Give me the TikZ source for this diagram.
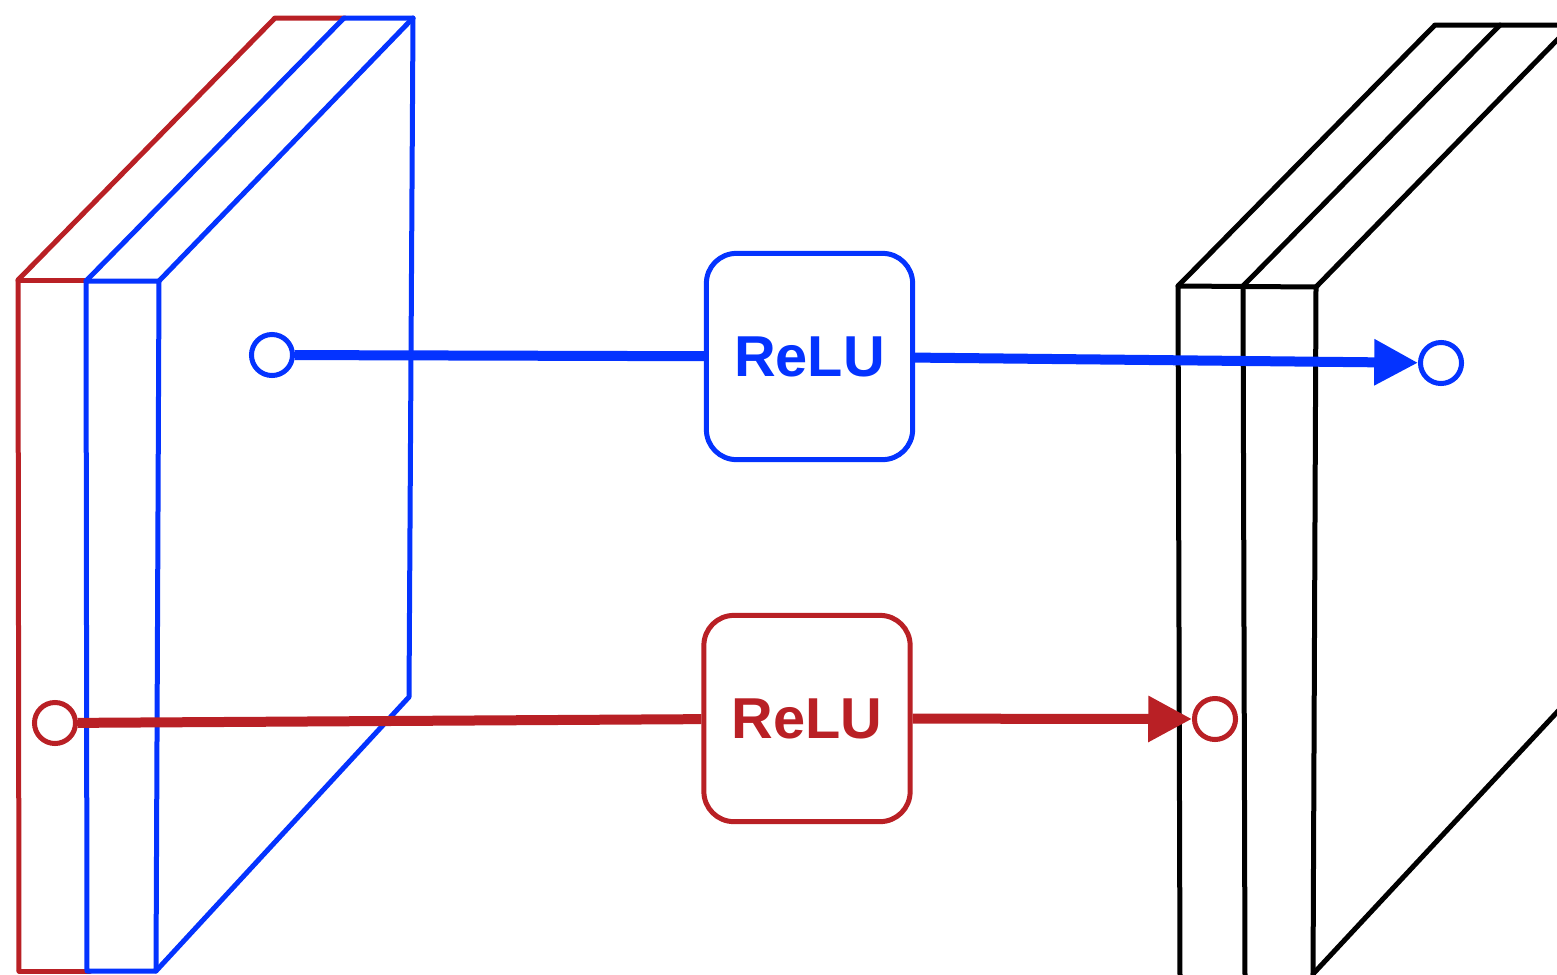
\documentclass[tikz,border=0pt]{standalone}
\usepackage{fontspec}
\setmainfont{Liberation Sans}
\usetikzlibrary{arrows.meta}
\definecolor{cblue}{HTML}{0433FF}
\definecolor{cred}{HTML}{B92025}
\tikzset{
  px/.style={x=0.48pt,y=-0.48pt},
  edge/.style={line width=2.4pt,line join=round,line cap=round},
  relubox/.style={draw,line width=2.4pt,rounded corners=14.4pt,minimum width=99pt,minimum height=99pt,font=\bfseries\fontsize{27.7}{28}\selectfont,inner sep=0pt},
  port/.style={circle,draw,fill=white,line width=2.4pt,minimum size=19.7pt,inner sep=0pt},
  flow/.style={line width=4.8pt},
  flowtip/.style={line width=4.8pt,-{Triangle[length=21pt,width=21pt]}},
}
\begin{document}
\begin{tikzpicture}[px]
\useasboundingbox (0,0) rectangle (1557,974);
\begin{scope}
\clip (0,0) rectangle (1557,974);
% left stack, red
\draw[edge,cred] (19,971) -- (18,280) -- (275,18) -- (345,18);
\draw[edge,cred] (18,280) -- (90,280);
\draw[edge,cred] (19,971) -- (90,971);
% left stack, blue
\draw[edge,cblue] (87,971) -- (86,281) -- (159,281) -- (156,971) -- cycle;
\draw[edge,cblue] (86,281) -- (344,18) -- (413,18) -- (409,697) -- (156,971);
\draw[edge,cblue] (159,281) -- (413,18);
% right stack, black
\draw[edge,black] (1180,980) -- (1178,286) -- (1316,287) -- (1313,980);
\draw[edge,black] (1243,286) -- (1245,980);
\draw[edge,black] (1178,286) -- (1435,25) -- (1560,25);
\draw[edge,black] (1243,286) -- (1500,25);
\draw[edge,black] (1316,287) -- (1560,37);
\draw[edge,black] (1313,974) -- (1560,709);
\end{scope}
\node[relubox,draw=cblue,text=cblue] (rb) at (809.5,356.5) {ReLU};
\node[relubox,draw=cred,text=cred] (rr) at (807,718.5) {ReLU};
\node[port,draw=cblue] (pb1) at (272,355) {};
\node[port,draw=cblue] (pb2) at (1441,363) {};
\node[port,draw=cred] (pr1) at (55,723) {};
\node[port,draw=cred] (pr2) at (1215,719) {};
\draw[flow,cblue] (pb1) -- (rb);
\draw[flowtip,cblue] (rb) -- (pb2);
\draw[flow,cred] (pr1) -- (rr);
\draw[flowtip,cred] (rr) -- (pr2);
\end{tikzpicture}
\end{document}
